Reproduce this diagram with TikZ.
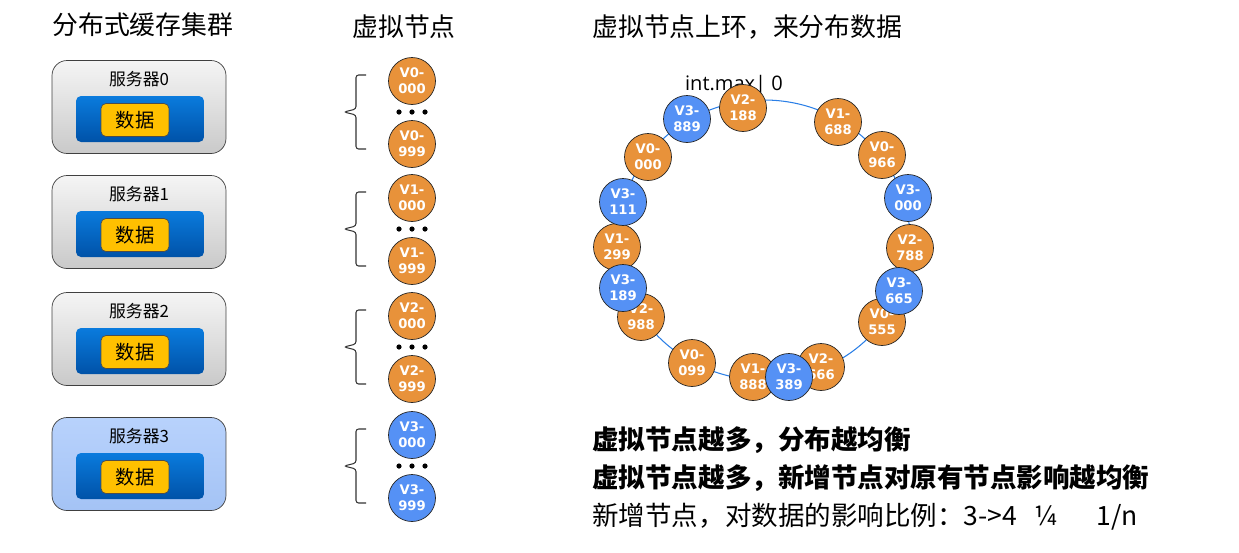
\documentclass[tikz,border=0pt]{standalone}
\usepackage{fontspec}
\setmainfont{Noto Sans CJK SC}
\newfontfamily\vnfont{DejaVu Sans}
\newfontfamily\latinfont{Open Sans}
\usetikzlibrary{positioning}

\definecolor{vorange}{HTML}{E8923A}
\definecolor{vblue}{HTML}{5591F5}
\definecolor{ringline}{HTML}{2B7FE6}
\definecolor{datagold}{HTML}{FFC000}
\definecolor{storetop}{HTML}{0A7BDD}
\definecolor{storebot}{HTML}{0052A8}
\definecolor{newtop}{HTML}{B8D2FC}
\definecolor{newbot}{HTML}{A4C3F5}

\begin{document}
\begin{tikzpicture}[
  x=0.02cm, y=-0.02cm,
  server/.style={draw=black!75, rounded corners=0.3cm, minimum width=3.48cm,
    minimum height=1.86cm, top color=gray!8, bottom color=gray!42},
  newserver/.style={server, top color=newtop, bottom color=newbot},
  srvname/.style={font=\fontsize{9.6}{10}\selectfont, inner sep=0pt},
  store/.style={rounded corners=0.1cm, minimum width=2.56cm, minimum height=0.92cm,
    top color=storetop, bottom color=storebot},
  datum/.style={draw=black!70, fill=datagold, rounded corners=0.1cm, minimum width=1.36cm,
    minimum height=0.66cm, font=\fontsize{11}{12}\selectfont},
  vnode/.style={circle, draw=black!85, minimum size=0.94cm, inner sep=0pt, align=center,
    text=white, font=\vnfont\bfseries\fontsize{7.5}{9.2}\selectfont},
  vold/.style={vnode, fill=vorange},
  vnew/.style={vnode, fill=vblue},
  heading/.style={font=\fontsize{14.7}{17}\selectfont, anchor=west, inner sep=0pt},
  remark/.style={font=\fontsize{15.1}{18}\selectfont, anchor=west, inner sep=0pt},
  brace/.style={draw=black!80, semithick, rounded corners=1.5pt},
]
  \useasboundingbox (0,0) rectangle (1239,552);

  % ── headings ──
  \node[heading] (title cluster) at (52,25) {分布式缓存集群};
  \node[heading] (title virtual) at (352,27) {虚拟节点};
  \node[heading] (title ring) at (592,27) {虚拟节点上环，来分布数据};

  % ── servers ──
  \foreach \i/\y/\sty in {0/107/server, 1/222/server, 2/339/server, 3/464/newserver} {
    \node[\sty] (srv\i) at (139,\y) {};
    \node[srvname] (srvname\i) at (139,{\y-28}) {服务器\i};
    \node[store] (store\i) at (140,{\y+12}) {};
    \node[datum] (data\i) at (135,{\y+13}) {数据};
  }

  % ── virtual nodes per server ──
  \foreach \g/\y/\sty in {0/112/vold, 1/229/vold, 2/347/vold, 3/466/vnew} {
    \node[\sty] (v\g-first) at (412,{\y-31}) {V\g-\\000};
    \node[\sty] (v\g-last) at (412,{\y+32}) {V\g-\\999};
    \foreach \d in {399,412,425}
      \fill (\d,\y) circle [radius=2.6];
    \draw[brace] (366,{\y-37}) -- (356,{\y-37}) -- (356,{\y-3}) -- (344,\y)
      -- (356,{\y+3}) -- (356,{\y+37}) -- (366,{\y+37});
  }

  % ── hash ring ──
  \draw[ringline, semithick] (764,240) ellipse [x radius=146, y radius=140];
  \node[font=\latinfont\fontsize{11.4}{12}\selectfont, inner sep=0pt] (ring top) at (734,85) {int.max| 0};

  \foreach \n/\x/\y/\vpre/\vnum in {
      r2188/743/108/V2/188, r1688/838/122/V1/688, r0966/882/155/V0/966,
      r2788/910/248/V2/788, r0555/882/322/V0/555, r2666/821/367/V2/666,
      r1888/753/377/V1/888, r0099/692/363/V0/099, r2988/641/317/V2/988,
      r1299/617/247/V1/299, r0000/648/157/V0/000}
    \node[vold] (\n) at (\x,\y) {\vpre-\\\vnum};
  \foreach \n/\x/\y/\vnum in {
      r3889/687/119/889, r3000/908/198/000, r3665/899/291/665,
      r3389/789/377/389, r3189/623/288/189, r3111/623/202/111}
    \node[vnew] (\n) at (\x,\y) {V3-\\\vnum};

  % ── remarks ──
  \node[remark, font=\bfseries\fontsize{15.1}{18}\selectfont] (note one) at (592,440) {虚拟节点越多，分布越均衡};
  \node[remark, font=\bfseries\fontsize{15.1}{18}\selectfont] (note two) at (592,478) {虚拟节点越多，新增节点对原有节点影响越均衡};
  \node[remark] (note three) at (592,517) {新增节点，对数据的影响比例：3->4\hspace{10pt}¼\hspace{22pt}1/n};

\end{tikzpicture}
\end{document}
